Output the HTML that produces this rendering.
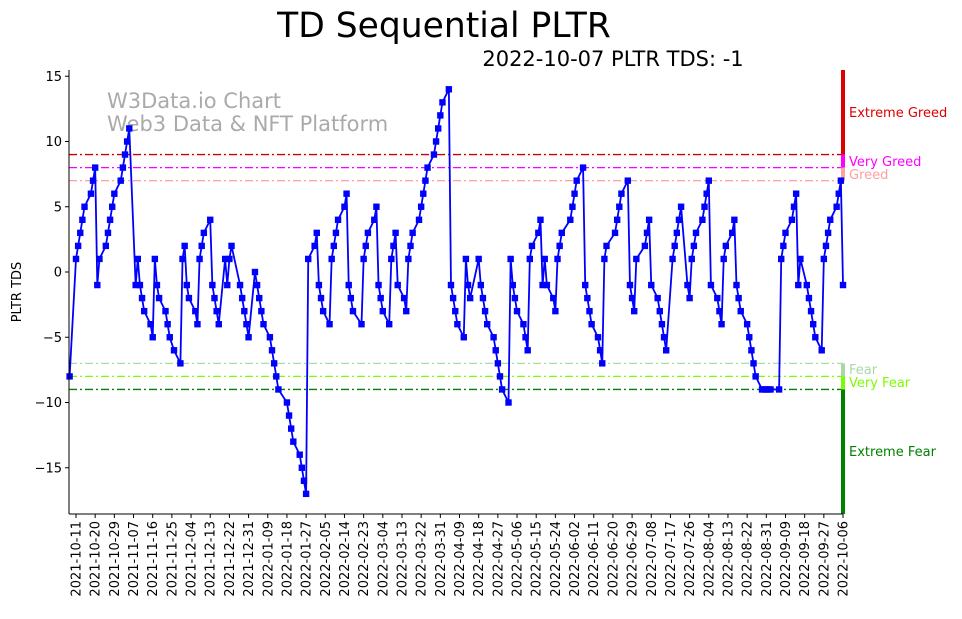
<!DOCTYPE html>
<html><head><meta charset="utf-8"><style>
body{margin:0;background:#fff;font-family:"Liberation Sans","DejaVu Sans",sans-serif}
svg text{font-family:"DejaVu Sans","Liberation Sans",sans-serif}
</style></head><body>
<svg id="chart" width="962" height="614" xmlns="http://www.w3.org/2000/svg">
<text x="444" y="37" font-size="34.5" text-anchor="middle">TD Sequential PLTR</text>
<text x="613" y="66" font-size="21" text-anchor="middle">2022-10-07 PLTR TDS: -1</text>
<text x="107" y="108" font-size="21" fill="#aaaaaa">W3Data.io Chart</text>
<text x="107" y="131" font-size="21" fill="#aaaaaa">Web3 Data &amp; NFT Platform</text>
<text transform="translate(21,292) rotate(-90)" font-size="13" text-anchor="middle">PLTR TDS</text>
<g id="grid"></g><g id="series"></g><g id="axes"></g>
</svg>
<script>
const seriesValues = [-8,
1,2,3,4,5,6,7,8, -1, 1,2,3,4,5,6,7,8,9,10,11,
-1,1,-1,-2,-3,-4,-5, 1,-1,-2,-3,-4,-5,-6,-7, 1,2,-1,-2,-3,-4, 1,2,3,4,
-1,-2,-3,-4,1,-1,1,2,-1,-2,-3,-4,-5,
0,-1,-2,-3,-4,-5,-6,-7,-8,-9,-10,-11,-12,-13,-14,-15,-16,-17,
1,2,3,-1,-2,-3,-4, 1,2,3,4,5,6,-1,-2,-3,-4, 1,2,3,4,5,-1,-2,-3,-4, 1,2,3,-1,-2,-3,
1,2,3,4,5,6,7,8,9,10,11,12,13,14, -1,-2,-3,-4,-5,
1,-1,-2,1,-1,-2,-3,-4,-5,-6,-7,-8,-9,-10, 1,-1,-2,-3,-4,-5,-6,
1,2,3,4,-1,1,-1,-2,-3, 1,2,3,4,5,6,7,8, -1,-2,-3,-4,-5,-6,-7, 1,2,3,4,5,6,7,
-1,-2,-3, 1,2,3,4, -1,-2,-3,-4,-5,-6, 1,2,3,4,5, -1,-2, 1,2,3,4,5,6,7, -1,-2,-3,-4, 1,2,3,4,
-1,-2,-3,-4,-5,-6,-7,-8,-9,-9,-9,-9,-9,-9, 1,2,3,4,5,6, -1,1,-1,-2,-3,-4,-5,-6, 1,2,3,4,5,6,7, -1];
const holidays = ["2021-11-25","2021-12-24","2022-01-17","2022-02-21","2022-04-15","2022-05-30","2022-06-20","2022-07-04","2022-09-05"];
const yTicks = [15,10,5,0,-5,-10,-15];
const levelValues = [9,8,7,-7,-8,-9];
const levelColors = ["#cc0000","#ff00ff","#ffa0a0","#a8e0a8","#7cfc00","#008000"];

const NS="http://www.w3.org/2000/svg";
const DAY=86400000, T0=Date.UTC(2021,9,11);
const L=69,R=843,TOP=70,BOT=514;
function xOf(t){return 76+(t-T0)/DAY*2.1306;}
function yOf(v){return 272-v*13.05;}
function mk(tag,attrs,parent){const e=document.createElementNS(NS,tag);for(const k in attrs)e.setAttribute(k,attrs[k]);parent.appendChild(e);return e;}
const dates=[];let t=Date.UTC(2021,9,8);
while(dates.length<seriesValues.length){const d=new Date(t);const w=d.getUTCDay();const s=d.toISOString().slice(0,10);
 if(w!==0&&w!==6&&holidays.indexOf(s)<0)dates.push(t);t+=DAY;}
const grid=document.getElementById('grid'),ser=document.getElementById('series'),ax=document.getElementById('axes');
levelValues.forEach((v,i)=>{const l=mk('line',{x1:L,x2:R,y1:yOf(v),y2:yOf(v),stroke:levelColors[i],'stroke-width':1.3,'stroke-dasharray':'8,3,2,3'},grid);

});
const zones=[[TOP,yOf(9),"#dd0000"],[yOf(9),yOf(8),"#ff00ff"],[yOf(8),yOf(7),"#ffa0a0"],[yOf(-7),yOf(-8),"#a8d8a8"],[yOf(-8),yOf(-9),"#7cfc00"],[yOf(-9),BOT,"#008000"]];
zones.forEach(z=>{const r=mk('rect',{x:841,y:z[0],width:4,height:z[1]-z[0],fill:z[2]},grid);

});
const labels=[["Extreme Greed",117,"#dd0000"],["Very Greed",166,"#ff00ff"],["Greed",179,"#ffa0a0"],["Fear",374,"#a8d8a8"],["Very Fear",387,"#7cfc00"],["Extreme Fear",456,"#008000"]];
labels.forEach(a=>{const e=mk('text',{x:849,y:a[1],'font-size':13,fill:a[2]},grid);e.textContent=a[0];

});
let d="";seriesValues.forEach((v,i)=>{d+=(i?"L":"M")+xOf(dates[i]).toFixed(2)+","+yOf(v).toFixed(2);});
const p=mk('path',{d:d,fill:'none',stroke:'#0000ff','stroke-width':1.8},ser);


seriesValues.forEach((v,i)=>{const r=mk('rect',{x:xOf(dates[i])-3.2,y:yOf(v)-3.2,width:6.4,height:6.4,fill:'#0000ff'},ser);

});
mk('rect',{x:0,y:BOT+1,width:L,height:100,fill:'#fff'},ax);
const la=mk('line',{x1:L,x2:L,y1:TOP,y2:BOT,stroke:'#000','stroke-width':1},ax);


const ba=mk('line',{x1:L,x2:R,y1:BOT,y2:BOT,stroke:'#000','stroke-width':1},ax);


yTicks.forEach(v=>{mk('line',{x1:L-4,x2:L,y1:yOf(v),y2:yOf(v),stroke:'#000'},ax);
const e=mk('text',{x:L-7,y:yOf(v)+4.5,'font-size':13,'text-anchor':'end'},ax);e.textContent=v<0?"\u2212"+(-v):v;

});
for(let k=0;k<=40;k++){const tt=T0+k*9*DAY;const x=xOf(tt);
mk('line',{x1:x,x2:x,y1:BOT,y2:BOT+4,stroke:'#000'},ax);
const e=mk('text',{transform:`translate(${x+4.5},${BOT+7}) rotate(-90)`,'font-size':13,'text-anchor':'end'},ax);
e.textContent=new Date(tt).toISOString().slice(0,10);

}
</script>
</body></html>
